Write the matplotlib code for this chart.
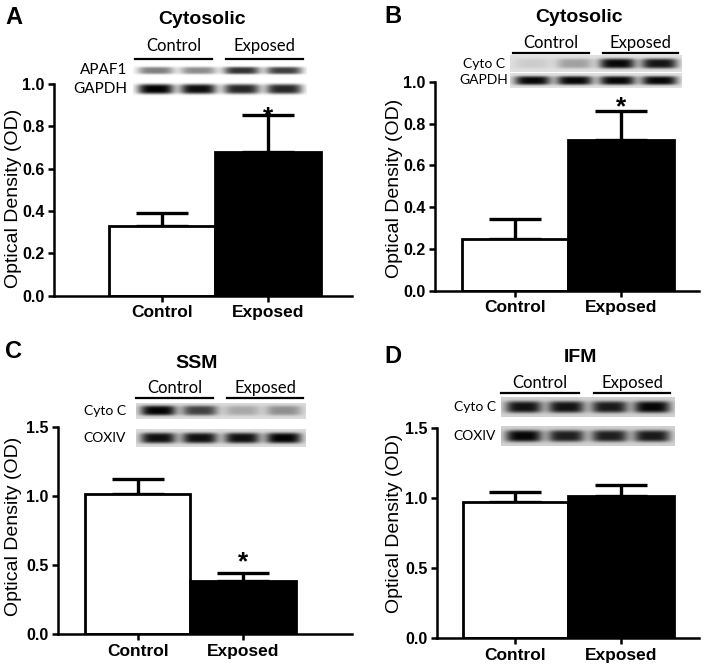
import numpy as np
import matplotlib
matplotlib.use("Agg")
import matplotlib.pyplot as plt
from matplotlib.lines import Line2D

plt.rcParams['font.family'] = ['Liberation Sans', 'DejaVu Sans']

groups = ['Control', 'Exposed']

a_mean = [0.33, 0.68]
a_sem = [0.06, 0.175]
b_mean = [0.245, 0.72]
b_sem = [0.10, 0.14]
c_mean = [1.01, 0.38]
c_sem = [0.11, 0.065]
d_mean = [0.97, 1.01]
d_sem = [0.075, 0.085]

# band darkness per lane (ctrl, ctrl, exp, exp)
a_apaf1 = [0.5, 0.45, 0.8, 0.75]
a_gapdh = [1.0, 0.95, 0.85, 0.85]
b_cytoc = [0.08, 0.25, 0.85, 0.8]
b_gapdh = [0.85, 0.85, 0.85, 0.85]
c_cytoc = [0.85, 0.6, 0.2, 0.3]
c_coxiv = [0.8, 0.8, 0.8, 0.85]
d_cytoc = [0.75, 0.75, 0.72, 0.8]
d_coxiv = [0.8, 0.7, 0.7, 0.72]

W, H = 704, 670
fig = plt.figure(figsize=(W / 100, H / 100), dpi=100)


def rect(x0, y0, x1, y1):
    return [x0 / W, 1 - y1 / H, (x1 - x0) / W, (y1 - y0) / H]


def ftext(x, y, s, **kw):
    fig.text(x / W, 1 - y / H, s, **kw)


def hline(x0, x1, y):
    fig.add_artist(Line2D([x0 / W, x1 / W], [1 - y / H] * 2,
                          transform=fig.transFigure, color='black', lw=1.6))


def bar_panel(box, xlim, ylim, yticks, mean, sem, star, ylab_x, ylab_y):
    ax = fig.add_axes(rect(*box))
    x = np.arange(len(groups))
    ax.bar(x, mean, width=1.0, color=['white', 'black'], edgecolor='black',
           linewidth=2.0, zorder=2)
    ax.errorbar(x, mean, yerr=[[0] * len(x), sem], fmt='none', ecolor='black',
                elinewidth=2.4, capsize=19, capthick=2.4, zorder=1)
    if star is not None:
        i, dy = star
        ax.annotate('*', xy=(x[i], mean[i] + sem[i]), xytext=(0, dy),
                    textcoords='offset points', ha='center', va='baseline',
                    fontsize=19, fontweight='bold')
    ax.set_xlim(*xlim)
    ax.set_ylim(*ylim)
    ax.set_yticks(yticks)
    ax.set_yticklabels(['%.1f' % t for t in yticks], fontsize=11.5, fontweight='bold')
    ax.set_xticks(x)
    ax.set_xticklabels(groups, fontsize=12.5, fontweight='bold')
    ax.tick_params(length=4, width=1.8, pad=3)
    for s in ['top', 'right']:
        ax.spines[s].set_visible(False)
    for s in ['left', 'bottom']:
        ax.spines[s].set_linewidth(1.8)
    ax.set_ylabel('Optical Density (OD)', fontsize=14)
    ax.yaxis.set_label_coords(ylab_x, ylab_y)
    return ax


def blot_row(box, levels, bg, label, label_x, fs=10, sy=0.3):
    ax = fig.add_axes(rect(*box))
    xx = np.linspace(0, 1, 240)
    yy = np.linspace(0, 1, 40)
    X, Y = np.meshgrid(xx, yy)
    img = np.full_like(X, bg)
    for c, lv in zip([0.13, 0.375, 0.625, 0.87], levels):
        img -= lv * np.exp(-((X - c) / 0.105) ** 4 - ((Y - 0.5) / sy) ** 4)
    ax.imshow(np.clip(img, 0, 1), cmap='gray', vmin=0, vmax=1, aspect='auto',
              interpolation='bilinear')
    ax.axis('off')
    ftext(label_x, (box[1] + box[3]) / 2, label, ha='right', va='center',
          fontsize=fs, family=['Lato', 'DejaVu Sans'])


def group_heads(ctrl, exp, ytxt, yline):
    for (x0, x1), name in zip([ctrl, exp], groups):
        ftext((x0 + x1) / 2, ytxt, name, ha='center', va='center', fontsize=12,
              family=['Lato', 'DejaVu Sans'])
        hline(x0, x1, yline)


# Panel A
bar_panel((54, 84, 352, 295.7), (-1.02, 1.79), (0, 1.0), [0, 0.2, 0.4, 0.6, 0.8, 1.0],
          a_mean, a_sem, (1, -6.8), -0.107, 0.46)
ftext(5, 6, 'A', fontsize=17, fontweight='bold', va='top')
ftext(202, 20, 'Cytosolic', fontsize=14, fontweight='bold', ha='center', va='center')
group_heads((135, 212), (226, 303), 46, 59)
blot_row((133, 62, 307, 79), a_apaf1, 1.0, 'APAF1', 127, 11, 0.22)
blot_row((133, 80, 307, 98), a_gapdh, 1.0, 'GAPDH', 127, 11, 0.28)

# Panel B
bar_panel((435, 81.7, 699, 290.7), (-0.755, 1.736), (0, 1.0), [0, 0.2, 0.4, 0.6, 0.8, 1.0],
          b_mean, b_sem, (1, -2.7), -0.121, 0.49)
ftext(384, 5, 'B', fontsize=17, fontweight='bold', va='top')
ftext(579, 18, 'Cytosolic', fontsize=14, fontweight='bold', ha='center', va='center')
group_heads((513, 589), (603, 678), 43, 53)
blot_row((510, 55, 682, 72), b_cytoc, 0.88, 'Cyto C', 505, 10)
blot_row((510, 73, 682, 88), b_gapdh, 0.88, 'GAPDH', 508, 10)

# Panel C
bar_panel((58, 426.7, 352, 634), (-0.754, 2.03), (0, 1.5), [0, 0.5, 1.0, 1.5],
          c_mean, c_sem, (1, 2.4), -0.122, 0.518)
ftext(5, 340, 'C', fontsize=17, fontweight='bold', va='top')
ftext(197, 363, 'SSM', fontsize=14, fontweight='bold', ha='center', va='center')
group_heads((136, 213), (227, 303), 388, 398)
blot_row((136, 403, 306, 419), c_cytoc, 0.86, 'Cyto C', 126, 10)
blot_row((136, 429, 306, 447), c_coxiv, 0.86, 'COXIV', 126, 10)

# Panel D
bar_panel((437, 427.7, 699, 638.3), (-0.744, 1.74), (0, 1.5), [0, 0.5, 1.0, 1.5],
          d_mean, d_sem, None, -0.13, 0.546)
ftext(384, 345, 'D', fontsize=17, fontweight='bold', va='top')
ftext(580, 357, 'IFM', fontsize=14, fontweight='bold', ha='center', va='center')
group_heads((501, 579), (594, 670), 383, 393)
blot_row((501, 397, 675, 417), d_cytoc, 0.82, 'Cyto C', 496, 10)
blot_row((501, 426, 675, 446), d_coxiv, 0.82, 'COXIV', 496, 10)

fig.savefig('out.png', dpi=100)
